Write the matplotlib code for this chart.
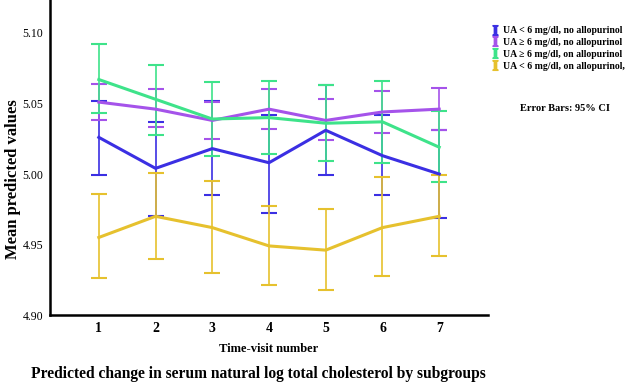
import numpy as np
import matplotlib
matplotlib.use('Agg')
import matplotlib.pyplot as plt
from matplotlib.lines import Line2D

plt.rcParams['font.family'] = ['Liberation Serif', 'DejaVu Serif']
plt.rcParams['mathtext.fontset'] = 'stix'

visits = [1, 2, 3, 4, 5, 6, 7]
labels = ['UA < 6 mg/dl, no allopurinol',
          'UA \u2265 6 mg/dl, no allopurinol',
          'UA \u2265 6 mg/dl, on allopurinol',
          'UA < 6 mg/dl, on allopurinol,']
colors = ['#3b2fe3', '#a553ea', '#3ee38a', '#e6c12e']

# means and 95% CI bounds per subgroup
mean_a = [5.026, 5.004, 5.018, 5.008, 5.031, 5.013, 5.000]
low_a = [4.999, 4.970, 4.985, 4.972, 4.999, 4.985, 4.969]
high_a = [5.052, 5.037, 5.052, 5.042, 5.063, 5.042, 5.031]

mean_b = [5.051, 5.046, 5.038, 5.046, 5.038, 5.044, 5.046]
low_b = [5.038, 5.033, 5.025, 5.032, 5.024, 5.029, 5.031]
high_b = [5.064, 5.060, 5.051, 5.060, 5.053, 5.059, 5.061]

mean_c = [5.067, 5.053, 5.039, 5.040, 5.036, 5.037, 5.019]
low_c = [5.043, 5.028, 5.013, 5.014, 5.009, 5.008, 4.994]
high_c = [5.092, 5.077, 5.065, 5.066, 5.063, 5.066, 5.045]

mean_d = [4.955, 4.970, 4.962, 4.949, 4.946, 4.962, 4.970]
low_d = [4.926, 4.940, 4.930, 4.921, 4.918, 4.928, 4.942]
high_d = [4.986, 5.001, 4.995, 4.977, 4.975, 4.998, 4.999]

series = [(mean_a, low_a, high_a), (mean_b, low_b, high_b),
          (mean_c, low_c, high_c), (mean_d, low_d, high_d)]

fig = plt.figure(figsize=(6.3, 3.83), dpi=100)
ax = fig.add_axes([0.0794, 0.1775, 0.6952, 0.8225])

for (m, lo, hi), c in zip(series, colors):
    m = np.array(m)
    err = [m - np.array(lo), np.array(hi) - m]
    ax.errorbar(visits, m, yerr=err, color=c, lw=2.2, elinewidth=1.2,
                capsize=6, capthick=1.5)

ax.set_xlim(0.14, 7.86)
ax.set_ylim(4.90, 5.1234)
ax.set_xticks(visits)
ax.set_yticks([4.90, 4.95, 5.00, 5.05, 5.10])
ax.set_yticklabels(['4.90', '4.95', '5.00', '5.05', '5.10'], fontsize=8.5)
ax.set_xticklabels([str(v) for v in visits], fontsize=10, fontweight='bold')
ax.tick_params(axis='x', length=0, pad=5)
ax.tick_params(axis='y', length=0, pad=5)
for s in ['top', 'right']:
    ax.spines[s].set_visible(False)
for s in ['left', 'bottom']:
    ax.spines[s].set_linewidth(1.8)

ax.set_ylabel('Mean predicted values', fontsize=12, fontweight='bold')
ax.yaxis.set_label_coords(-0.066, 0.43)
ax.set_xlabel('Time-visit number', fontsize=9, fontweight='bold', labelpad=6)
fig.text(0.41, 0.0235, 'Predicted change in serum natural log total cholesterol by subgroups',
         ha='center', va='center', fontsize=11.2, fontweight='bold')

handles = [Line2D([], [], ls='none', marker='$\\mathbf{I}$', color=c, markersize=7)
           for c in colors]
fig.legend(handles, labels, loc='upper left', bbox_to_anchor=(0.765, 0.955),
           frameon=False, prop={'size': 7, 'weight': 'bold'},
           handlelength=0.8, handletextpad=0.5, labelspacing=0.3)
fig.text(0.897, 0.718, 'Error Bars: 95% CI', ha='center', va='center',
         fontsize=7.5, fontweight='bold')

fig.savefig('out.png', dpi=100)
